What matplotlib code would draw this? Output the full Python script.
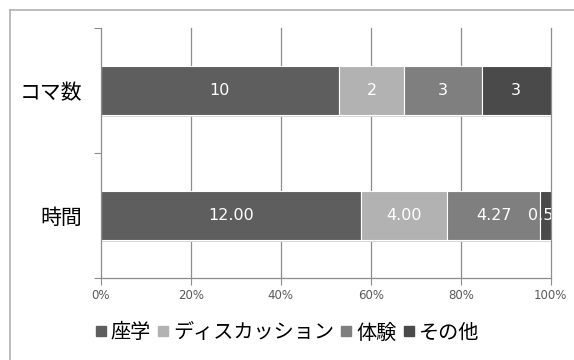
import matplotlib
matplotlib.use("Agg")
import matplotlib.pyplot as plt
from matplotlib.lines import Line2D

plt.rcParams['font.family'] = ['Noto Sans CJK JP', 'DejaVu Sans']

categories = ['コマ数', '時間']
series = ['座学', 'ディスカッション', '体験', 'その他']
colors = ['#5e5e5e', '#b2b2b2', '#7f7f7f', '#4a4a4a']

# コマ数: segment shares (%), with the printed labels
koma_pct = [53.0, 14.5, 17.2, 15.3]
koma_labels = ['10', '2', '3', '3']
# 時間: hours
jikan_values = [12.00, 4.00, 4.27, 0.50]
jikan_labels = ['12.00', '4.00', '4.27', '0.50']
xticks = [0, 20, 40, 60, 80, 100]
xtick_labels = ['0%', '20%', '40%', '60%', '80%', '100%']

tot = sum(jikan_values)
jikan_pct = [v / tot * 100 for v in jikan_values]
rows = [koma_pct, jikan_pct]
row_labels = [koma_labels, jikan_labels]

fig = plt.figure(figsize=(5.74, 3.6), dpi=100)
ax = fig.add_axes([0.1754, 0.2286, 0.784, 0.6936])

bar_h = 0.39
for i, (vals, labs) in enumerate(zip(rows, row_labels)):
    # subtle shadow under the bar
    ax.barh(i + 0.018, 100, height=bar_h, left=0, color='#d6d6d6', zorder=1)
    left = 0
    for j, (v, lab) in enumerate(zip(vals, labs)):
        ax.barh(i, v, height=bar_h, left=left, color=colors[j],
                edgecolor='white', linewidth=0.8, zorder=2)
        ax.text(left + v / 2, i, lab, ha='center', va='center', color='white',
                fontsize=11.5, family='DejaVu Sans', zorder=3, clip_on=True)
        left += v

ax.set_xlim(0, 100)
ax.set_ylim(1.5, -0.5)
ax.set_xticks(xticks)
ax.set_xticklabels(xtick_labels, fontsize=8.5, color='#595959', family='DejaVu Sans')
ax.tick_params(axis='x', length=5, width=0.8, color='#8c8c8c', pad=3)

ax.set_yticks([-0.5, 0.5, 1.5])
ax.set_yticklabels([])
ax.tick_params(axis='y', which='major', length=5, width=0.8, color='#8c8c8c')
ax.set_yticks([0, 1], minor=True)
ax.set_yticklabels(categories, minor=True, fontsize=15, fontweight='normal', color='#000000')
ax.tick_params(axis='y', which='minor', length=0, pad=13)

for xv in xticks[1:]:
    ax.axvline(xv, color='#8c8c8c', linewidth=0.9, zorder=0, clip_on=False)
for s in ['top', 'right']:
    ax.spines[s].set_visible(False)
for s in ['left', 'bottom']:
    ax.spines[s].set_color('#8c8c8c')
    ax.spines[s].set_linewidth(0.9)

handles = [Line2D([], [], marker='s', linestyle='none', markersize=6.5, color=c) for c in colors]
fig.legend(handles, series, loc='center', bbox_to_anchor=(0.5, 0.075), ncol=4,
           frameon=False, fontsize=14.5, handlelength=0.6, handletextpad=0.2,
           columnspacing=0.3, borderaxespad=0)

# outer chart frame (top and left visible)
fig.add_artist(Line2D([10 / 574, 1], [1 - 10 / 360, 1 - 10 / 360], color='#b0b0b0', linewidth=1.2))
fig.add_artist(Line2D([10 / 574, 10 / 574], [0, 1 - 10 / 360], color='#b0b0b0', linewidth=1.2))

fig.savefig('out.png', dpi=100)
